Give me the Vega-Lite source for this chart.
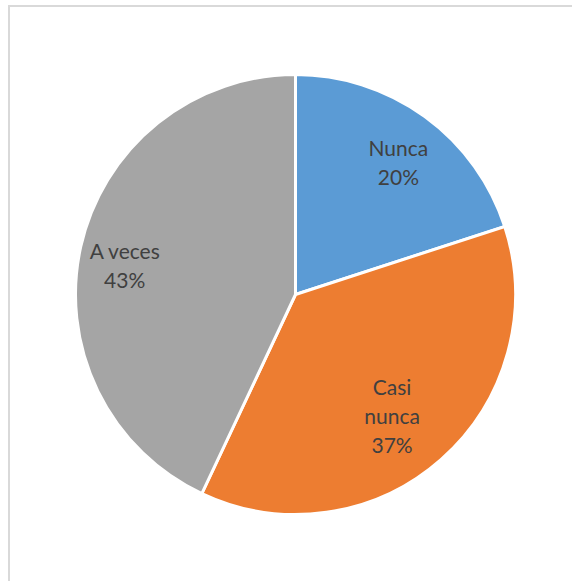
{
  "$schema": "https://vega.github.io/schema/vega-lite/v6.json",
  "autosize": "none",
  "width": 573,
  "height": 577,
  "padding": {"left": 9, "top": 6, "right": 0, "bottom": 0},
  "background": "white",
  "view": {"stroke": "#D9D9D9", "strokeWidth": 2},
  "config": {"view": {"stroke": "#D9D9D9", "strokeWidth": 2}},
  "data": {"values": [
    {"categoria": "Nunca", "valor": 20, "orden": 1, "label": "Nunca\n20%"},
    {"categoria": "Casi nunca", "valor": 37, "orden": 2, "label": "Casi\nnunca\n37%"},
    {"categoria": "A veces", "valor": 43, "orden": 3, "label": "A veces\n43%"}
  ]},
  "encoding": {
    "theta": {"field": "valor", "type": "quantitative", "stack": true},
    "order": {"field": "orden", "type": "quantitative"},
    "color": {
      "field": "categoria", "type": "nominal",
      "scale": {"domain": ["Nunca", "Casi nunca", "A veces"], "range": ["#5B9BD5", "#ED7D31", "#A5A5A5"]},
      "legend": null
    }
  },
  "layer": [
    {"mark": {"type": "arc", "outerRadius": 220, "stroke": "white", "strokeWidth": 3}},
    {
      "mark": {"type": "text", "radius": 175, "font": "Lato", "fontSize": 21, "lineBreak": "\n", "lineHeight": 29, "align": "center", "baseline": "middle", "dy": -3},
      "encoding": {
        "text": {"condition": {"test": "datum.categoria !== 'Casi nunca'", "field": "label"}, "value": ""},
        "color": {"value": "#404040"}
      }
    },
    {
      "mark": {"type": "text", "radius": 137, "thetaOffset": -0.06, "font": "Lato", "fontSize": 21, "lineBreak": "\n", "lineHeight": 29, "align": "center", "baseline": "middle", "dy": -3},
      "encoding": {
        "text": {"condition": {"test": "datum.categoria === 'Casi nunca'", "field": "label"}, "value": ""},
        "color": {"value": "#404040"}
      }
    }
  ]
}
